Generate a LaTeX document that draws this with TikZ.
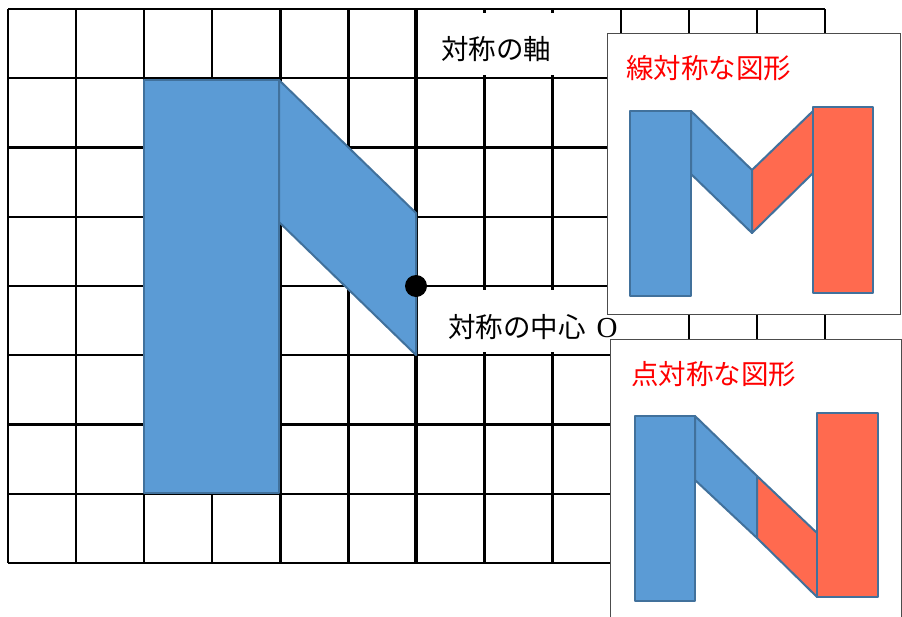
\documentclass[tikz,border=0pt]{standalone}
\usepackage{fontspec}
\setmainfont{Liberation Serif}
\newfontfamily\jpfont{Noto Sans CJK JP}
\definecolor{nblue}{HTML}{5B9BD5}
\definecolor{nedge}{HTML}{41719C}
\definecolor{nred}{HTML}{FF6A4F}
\tikzset{
  gridline/.style={line width=2.4pt},
  bluepart/.style={fill=nblue,draw=nedge,line width=2pt,line join=round},
  redpart/.style={fill=nred,draw=nedge,line width=2pt,line join=round},
  panel/.style={fill=white,draw=black!70,line width=1pt},
  jplabel/.style={anchor=west,inner sep=0pt,font=\jpfont\fontsize{27.5}{28}\selectfont},
}
\begin{document}
\begin{tikzpicture}[x=1pt,y=-1pt]
    \useasboundingbox(0,0)rectangle(902,616);
    \foreach \i in {0,...,12}
      \draw[gridline]({8+\i*68.08},9)--({8+\i*68.08},563);%縦線
    \foreach \j in {0,...,8}
      \draw[gridline](8,{9+\j*69.25})--(825,{9+\j*69.25});%横線
    \draw[line width=4.5pt](416,9)--(416,563);%対称の軸
    \fill[white](418,13)rectangle(604,75);
    \fill[white](418,290)rectangle(630,352);
    \node[jplabel](axisname)at(441,49){対称の軸};
    \node[jplabel](centername)at(448,327){対称の中心\hspace{11pt}{\rmfamily\fontsize{29}{29}\selectfont O}};
    \draw[bluepart](144,80)rectangle(279,493);
    \draw[bluepart](279,80)--(416,213)--(416,355)--(279,222)--cycle;
    \fill(416,286)circle(11);%対称の中心
    % 線対称な図形
    \draw[panel](607,33)rectangle(900,314);
    \node[jplabel,text=red](linename)at(626,68){線対称な図形};
    \draw[bluepart](630,111)rectangle(691,296);
    \draw[bluepart](691,111)--(752,170)--(752,233)--(691,174)--cycle;
    \draw[redpart](752,170)--(813,111)--(813,173)--(752,233)--cycle;
    \draw[redpart](813,107)rectangle(873,293);
    % 点対称な図形
    \draw[panel](610,339)rectangle(901,640);
    \node[jplabel,text=red](pointname)at(631,374){点対称な図形};
    \draw[bluepart](635,416)rectangle(695,601);
    \draw[bluepart](695,416)--(757,476)--(757,538)--(695,480)--cycle;
    \draw[redpart](757,476)--(817,533)--(817,597)--(757,538)--cycle;
    \draw[redpart](817,413)rectangle(878,597);
  \end{tikzpicture}
\end{document}
